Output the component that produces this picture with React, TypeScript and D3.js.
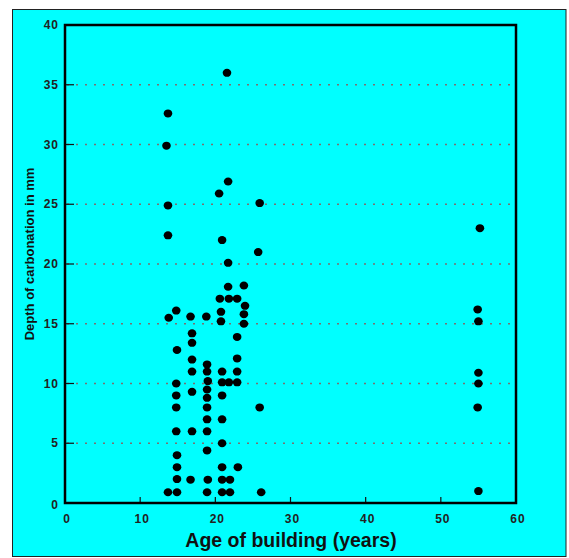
import React from "react";
import * as d3 from "d3";

const ageValues = [
  13.5, 13.7, 13.7, 13.7, 13.8, 13.7,
  14.8, 14.9, 14.8, 14.8, 14.8, 14.8, 14.9, 14.9, 14.9, 14.9,
  16.7, 16.9, 16.9, 16.9, 16.9, 16.9, 16.9, 16.7,
  18.8, 18.9, 18.9, 19.0, 18.9, 18.9, 18.9, 18.9, 18.9, 18.9, 19.0, 18.9,
  20.5, 20.9, 20.6, 20.75, 20.75, 20.9, 20.9, 20.9, 20.9, 20.9, 20.9, 20.9, 20.9,
  21.55, 21.7, 21.7, 21.7, 21.8, 21.8, 21.95, 21.95,
  22.9, 22.9, 22.9, 22.9, 22.9, 23.0,
  23.8, 23.95, 23.8, 23.8,
  25.9, 25.7, 25.9, 26.1,
  55.2, 54.9, 55.0, 55.0, 55.0, 54.9, 55.0,
];
const depthValues = [
  29.9, 32.6, 24.9, 22.4, 15.5, 0.9,
  16.1, 12.8, 10.0, 9.0, 8.0, 6.0, 4.0, 3.0, 2.0, 0.9,
  15.6, 14.2, 13.4, 12.0, 11.0, 9.3, 6.0, 1.95,
  15.6, 11.6, 11.0, 10.2, 9.5, 8.8, 8.0, 7.0, 6.0, 4.4, 1.95, 0.9,
  25.9, 22.0, 17.1, 16.0, 15.2, 11.0, 10.1, 9.0, 7.0, 5.0, 3.0, 1.95, 0.9,
  36.0, 26.9, 20.1, 18.1, 17.1, 10.1, 1.95, 0.9,
  17.1, 13.9, 12.1, 11.0, 10.1, 3.0,
  18.2, 16.5, 15.8, 15.0,
  25.1, 21.0, 8.0, 0.9,
  23.0, 16.2, 15.2, 10.9, 10.0, 8.0, 1.0,
];
const xTicks = [0, 10, 20, 30, 40, 50, 60];
const yTicks = [0, 5, 10, 15, 20, 25, 30, 35, 40];
const gridValues = [5, 10, 15, 20, 25, 30, 35];
const xTitle = "Age of building (years)";
const yTitle = "Depth of carbonation in mm";

export default function App() {
  const W = 569, H = 558;
  const left = 65, right = 516, top = 25, bottom = 503;
  const x = d3.scaleLinear().domain([0, 60]).range([left, right]);
  const y = d3.scaleLinear().domain([0, 40]).range([bottom, top]);
  const font = "Liberation Sans, Arial, sans-serif";
  return (
    <svg width={W} height={H} style={{ position: "absolute", left: 0, top: 0, background: "#fff" }}>
      <rect x={12.5} y={9.5} width={553.5} height={547} fill="#00FFFF" stroke="#222" strokeWidth={1} />
      {gridValues.map((v) => (
        <line key={"g" + v} x1={x(0) + 2} x2={x(60) - 4} y1={y(v)} y2={y(v)}
          stroke="#7a6f70" strokeWidth={1.5} strokeDasharray="2,7" />
      ))}
      {yTicks.filter((v) => v > 0 && v < 40).map((v) => (
        <line key={"yt" + v} x1={x(0)} x2={x(0) + 9} y1={y(v)} y2={y(v)} stroke="#111" strokeWidth={1.2} />
      ))}
      {xTicks.filter((v) => v > 0 && v < 60).map((v) => (
        <line key={"xt" + v} x1={x(v)} x2={x(v)} y1={y(0)} y2={y(0) - 6} stroke="#111" strokeWidth={1.2} />
      ))}
      <rect x={x(0)} y={y(40)} width={x(60) - x(0)} height={y(0) - y(40)} fill="none" stroke="#000" strokeWidth={2.5} />
      {ageValues.map((a, i) => (
        <ellipse key={"p" + i} cx={x(a)} cy={y(depthValues[i])} rx={4.3} ry={4} fill="#000" />
      ))}
      {yTicks.map((v) => (
        <text key={"yl" + v} x={x(0) - 6} y={v === 0 ? y(0) + 2 : y(v)}
          dy="0.35em" textAnchor="end" fontFamily={font} fontWeight="bold" fontSize={12}
          letterSpacing={1} fill="#222">
          {v}
        </text>
      ))}
      {xTicks.map((v) => (
        <text key={"xl" + v} x={x(v) + 2} y={y(0) + 16} dy="0.35em" textAnchor="middle"
          fontFamily={font} fontWeight="bold" fontSize={12} letterSpacing={1} fill="#222">
          {v}
        </text>
      ))}
      <text x={291} y={547} textAnchor="middle" fontFamily={font} fontWeight="bold" fontSize={19.5} fill="#111">
        {xTitle}
      </text>
      <text transform={`translate(34, 254) rotate(-90)`} textAnchor="middle" fontFamily={font}
        fontWeight="bold" fontSize={13} fill="#111">
        {yTitle}
      </text>
    </svg>
  );
}
